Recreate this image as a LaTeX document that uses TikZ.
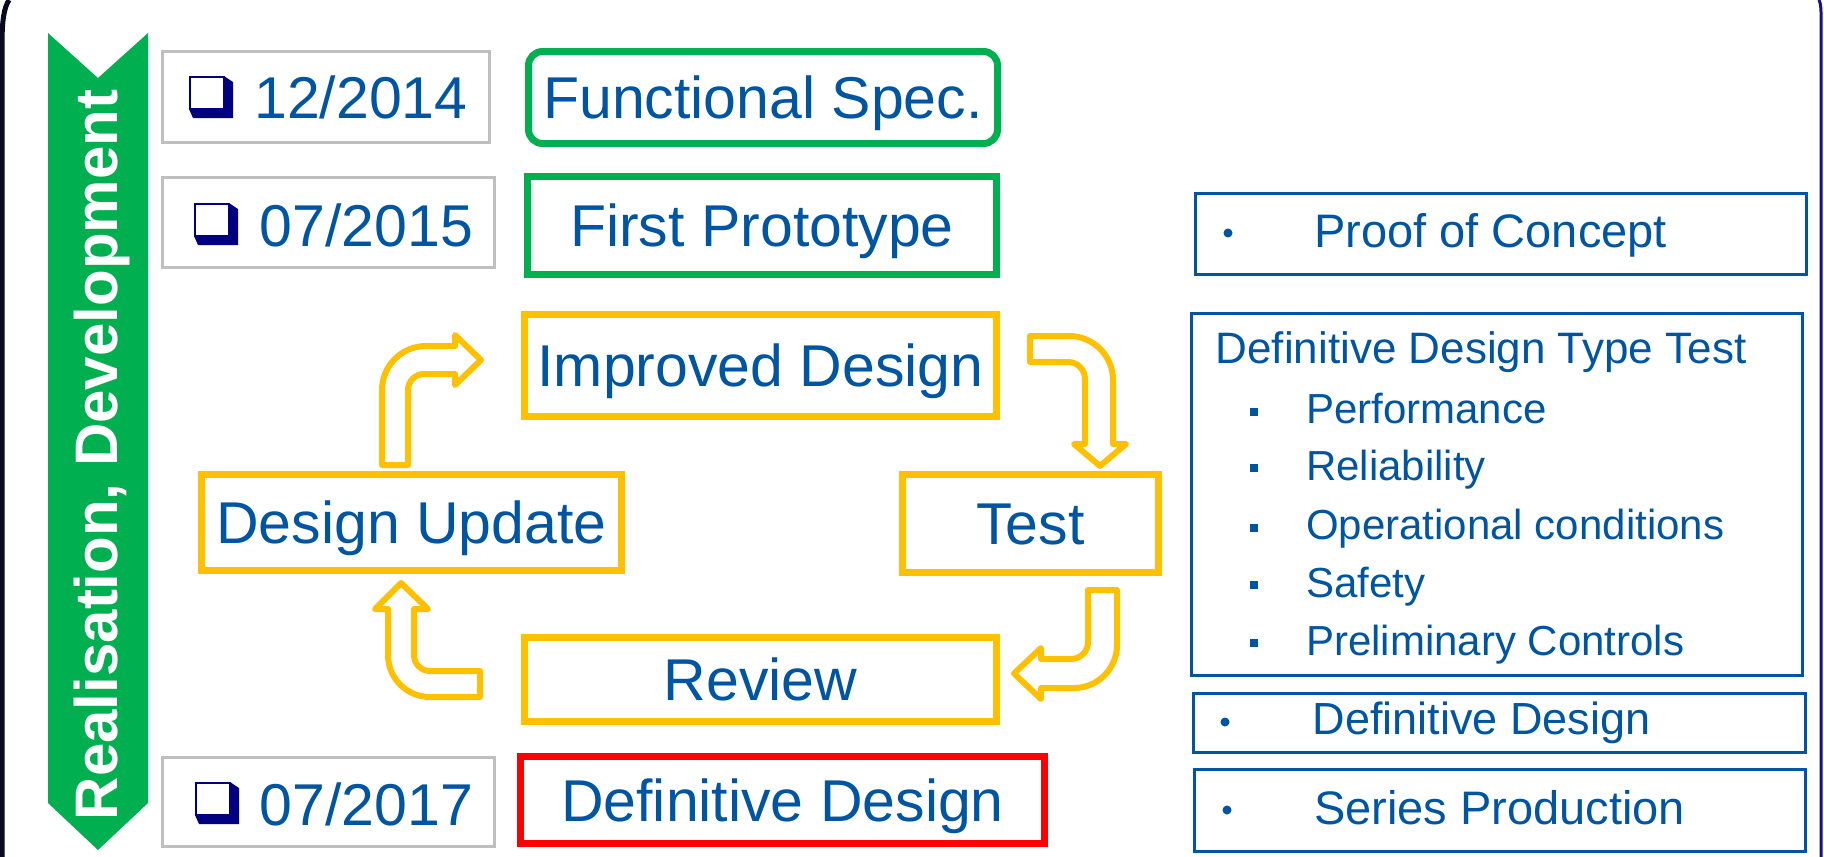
\documentclass[tikz,border=0pt]{standalone}
\usepackage{fontspec}
\setmainfont{Liberation Sans}
\definecolor{tblue}{HTML}{0055A2}
\definecolor{gr}{HTML}{00B050}
\definecolor{og}{HTML}{FFC000}
\definecolor{rd}{HTML}{FF0000}
\definecolor{gy}{HTML}{BFBFBF}
\definecolor{nv}{HTML}{000080}
\definecolor{edgenv}{HTML}{14147A}
\definecolor{edgebk}{HTML}{0A0A1E}
\begin{document}
\begin{tikzpicture}[x=1pt,y=-1pt,
  bigtxt/.style={text=tblue, font=\fontsize{59}{70}\selectfont},
  cyclebox/.style={draw=og, line width=7pt, inner sep=0pt, fill=white, bigtxt, text height=42.2pt, text depth=0pt},
  greenbox/.style={cyclebox, draw=gr},
  redbox/.style={cyclebox, draw=rd},
  datebox/.style={draw=gy, line width=3pt, inner sep=0pt, fill=white},
  bluebox/.style={draw=tblue, line width=3pt, inner sep=0pt},
  datetxt/.style={bigtxt, anchor=base west, inner sep=0pt},
  sidetxt/.style={text=tblue, anchor=base west, inner sep=0pt, font=\fontsize{47}{56}\selectfont},
  itemtxt/.style={text=tblue, anchor=base west, inner sep=0pt, font=\fontsize{42}{50}\selectfont},
  blockarrow/.style={draw=og, line width=6pt, fill=white, line join=round},
  chk/.pic={
    \fill[nv] (35,0) -- (44,6) -- (44,42) -- (4,42) -- (0,33) -- cycle;
    \filldraw[fill=white, draw=nv, line width=2.4pt] (1.2,1.2) rectangle (35,33);
  }]
\useasboundingbox (0,0) rectangle (1824,857);
\fill[white] (0,0) rectangle (1824,857);
% screen edges
\draw[edgebk, line width=5pt] (2,857) -- (2,45) .. controls (2,20) and (4,8) .. (9,0);
\draw[edgenv, line width=3pt] (1821,857) -- (1821,12) .. controls (1821,6) and (1820,2) .. (1819,0);

% green banner
\fill[gr] (48,33) -- (98,78) -- (148,33) -- (148,803) -- (98,850) -- (48,803) -- cycle;
\node[rotate=90, anchor=base, inner sep=0pt, text=white, font=\fontsize{60}{70}\selectfont\bfseries] (banner) at (117,455) {Realisation, Development};

% date boxes
\node[datebox, minimum width=327, minimum height=91] (d1) at (326,97) {};
\node[datebox, minimum width=332, minimum height=90] (d2) at (328.5,222.5) {};
\node[datebox, minimum width=332, minimum height=89] (d3) at (328.5,802) {};
\pic at (189,76) {chk};
\pic at (194,203) {chk};
\pic at (195,782) {chk};
\node[datetxt] (t1) at (254,118) {12/2014};
\node[datetxt] (t2) at (259.5,246) {07/2015};
\node[datetxt] (t3) at (259.5,825) {07/2017};

% milestone boxes
\node[greenbox, rounded corners=14pt, minimum width=469, minimum height=92] (fs) at (763,97.5) {Functional Spec.};
\node[greenbox, minimum width=469, minimum height=98] (fp) at (762,225.5) {First Prototype};
\node[cyclebox, minimum width=472, minimum height=102] (id) at (760.5,365.5) {Improved Design};
\node[cyclebox, minimum width=420, minimum height=96] (du) at (411.5,522.5) {Design Update};
\node[cyclebox, minimum width=256, minimum height=98] (test) at (1030.5,523.5) {Test};
\node[cyclebox, minimum width=472, minimum height=84] (rev) at (760.5,679.5) {Review};
\node[redbox, minimum width=524, minimum height=87] (dd) at (782.5,800) {Definitive Design};

% block arrows of the cycle
% Design Update -> Improved Design
\draw[blockarrow] (382,465) -- (382,390) .. controls (382,365.7) and (401.7,346) .. (426,346) -- (455,346) -- (455,335) -- (481,360) -- (455,385) -- (455,374) -- (424,374) .. controls (415.2,374) and (408,381.2) .. (408,390) -- (408,465) -- cycle;
% Improved Design -> Test
\draw[blockarrow] (1030,336) -- (1069,336) .. controls (1093.3,336) and (1113,355.7) .. (1113,380) -- (1113,444) -- (1126,444) -- (1100,466) -- (1074,444) -- (1085,444) -- (1085,379) .. controls (1085,369.6) and (1077.4,362) .. (1068,362) -- (1030,362) -- cycle;
% Test -> Review
\draw[blockarrow] (1088,590) -- (1117,590) -- (1117,645) .. controls (1117,668.7) and (1097.7,688) .. (1074,688) -- (1041,688) -- (1041,699) -- (1014,673.5) -- (1041,648) -- (1041,659) -- (1071,659) .. controls (1080.4,659) and (1088,651.4) .. (1088,642) -- cycle;
% Review -> Design Update
\draw[blockarrow] (480,671) -- (430,671) .. controls (421.2,671) and (414,663.8) .. (414,655) -- (414,609) -- (428,609) -- (401,583) -- (375,609) -- (388,609) -- (388,655) .. controls (388,678.2) and (406.8,697) .. (430,697) -- (480,697) -- cycle;

% right-hand boxes
\node[bluebox, minimum width=611, minimum height=81] (poc) at (1501,234) {};
\fill[tblue] (1228,233) circle (4.5);
\node[sidetxt] (poct) at (1314,247) {Proof of Concept};

\node[bluebox, minimum width=611, minimum height=362] (tt) at (1497,494.5) {};
\node[itemtxt, font=\fontsize{44}{52}\selectfont] (ttt) at (1215.5,363) {Definitive Design Type Test};
\foreach \yy/\bb/\lab in {412/423/Performance, 468/480/Reliability, 528/539/Operational conditions, 585/597/Safety, 643/655/Preliminary Controls}{
  \fill[tblue] (1250,\yy-4) rectangle (1258,\yy+4);
  \node[itemtxt] at (1306,\bb) {\lab};
}

\node[bluebox, minimum width=612, minimum height=59] (ddr) at (1499.5,723) {};
\fill[tblue] (1225,722) circle (4.5);
\node[sidetxt, font=\fontsize{45}{54}\selectfont] (ddrt) at (1312.5,734) {Definitive Design};

\node[bluebox, minimum width=611, minimum height=82] (sp) at (1500,810.5) {};
\fill[tblue] (1227,810) circle (4.5);
\node[sidetxt] (spt) at (1314,824) {Series Production};
\end{tikzpicture}
\end{document}
